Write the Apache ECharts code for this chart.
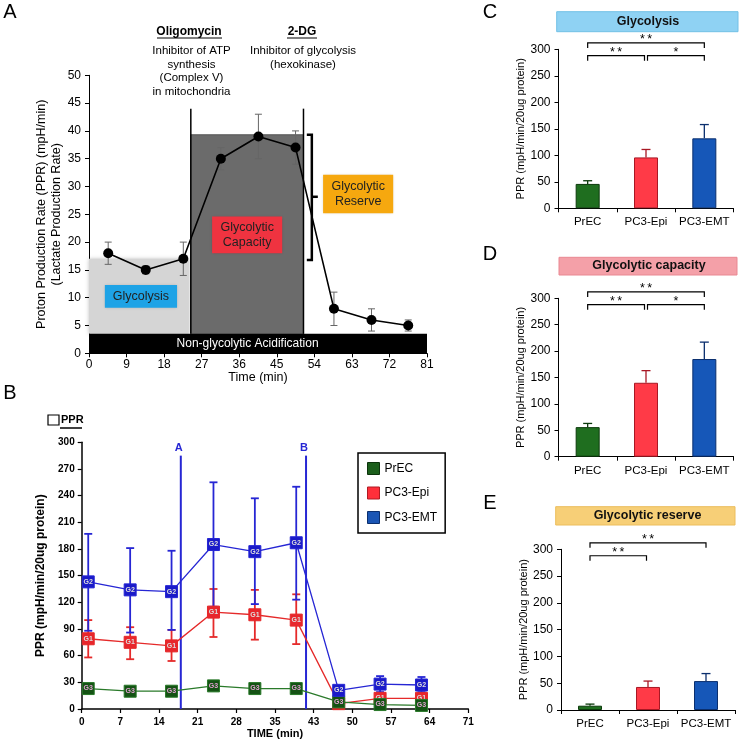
<!DOCTYPE html>
<html><head><meta charset="utf-8">
<script src="https://cdn.jsdelivr.net/npm/echarts@6/dist/echarts.min.js"></script>
<style>html,body{margin:0;padding:0;background:#fff}#c{width:739px;height:747px}</style>
</head><body><div id="c"></div>
<script>
// ================= DATA =================
// Panel A : seahorse glycolysis stress test (schematic)
const timeA = [4.6, 13.6, 22.6, 31.6, 40.6, 49.5, 58.7, 67.7, 76.5];
const pprA  = [18, 15, 17, 35, 39, 37, 8, 6, 5];
const errA  = [2, 0.7, 3, 2, 4, 3, 3, 2, 1];
const basalA = 17, maxA = 39.3, nonGlyA = 3.5;
const oligoTimeA = 24.4, dgTimeA = 51.4;
const xTicksA = {min:0, max:81, step:9};
const yTicksA = {min:0, max:50, step:5};

// Panel B : PPR time course
const timeB   = [1.2, 8.9, 16.5, 24.2, 31.8, 39.4, 47.2, 54.8, 62.4];
const precB   = [23, 20, 20, 26, 23, 23, 8, 5, 4];
const precLoB = [21, 18, 18, 24, 21, 21, 6, 3, 2];
const precHiB = [25, 22, 22, 28, 25, 25, 10, 7, 6];
const epiB    = [79, 75, 71, 109, 106, 100, 6, 12, 12];
const epiLoB  = [58, 56, 54, 81, 78, 73, 3, 9, 9];
const epiHiB  = [100, 92, 89, 135, 134, 129, 9, 15, 15];
const emtB    = [143, 134, 132, 185, 177, 187, 21, 28, 27];
const emtLoB  = [88, 86, 89, 115, 118, 123, 18, 19, 19];
const emtHiB  = [197, 181, 178, 255, 237, 250, 24, 37, 36];
const injectB = [18.2, 41.2];
const injectNamesB = ['A', 'B'];
const injectTopB = 285;
const xTickLabelsB = ['0','7','14','21','28','35','43','50','57','64','71'];
const xMaxB = 71;

// Panels C, D, E : bar summaries
const cats = ['PrEC', 'PC3-Epi', 'PC3-EMT'];
const glyC = [46, 96, 132],  glyErrC = [6, 15, 26];
const capD = [56, 140, 185], capErrD = [7, 23, 32];
const resE = [8, 43, 54],    resErrE = [3, 11, 14];
const sigC = [[0, 1, 0, '**'], [1, 2, 0, '*'], [0, 2, 1, '**']];
const sigD = [[0, 1, 0, '**'], [1, 2, 0, '*'], [0, 2, 1, '**']];
const sigE = [[0, 1, 0, '**'], [0, 2, 1, '**']];

// ================= STYLE =================
const FONT = '"Liberation Sans", Arial, Helvetica, sans-serif';
const barFill = ['#1f6e1f', '#ff3a47', '#1657b8'];
const barEdge = ['#0c3a0c', '#a81824', '#0b2f6e'];

const chart = echarts.init(document.getElementById('c'));

function line(x1, y1, x2, y2, stroke, lw) {
  return {type: 'line', shape: {x1, y1, x2, y2}, style: {stroke, lineWidth: lw}};
}

// ---------- Panel A shapes ----------
const shapesA = {
  type: 'custom', xAxisIndex: 0, yAxisIndex: 0, z: 1, silent: true, clip: false,
  data: [[0, 0]],
  renderItem: (p, api) => {
    const c = (x, y) => api.coord([x, y]);
    const rect = (x0, y0, x1, y1, style) => {
      const a = c(x0, y1), b = c(x1, y0);
      return {type: 'rect', shape: {x: a[0], y: a[1], width: b[0] - a[0], height: b[1] - a[1]}, style};
    };
    const ch = [];
    ch.push(rect(0, nonGlyA, oligoTimeA - 0.5, basalA, {fill: '#d5d5d5', shadowBlur: 4, shadowColor: 'rgba(0,0,0,0.25)'}));
    ch.push(rect(oligoTimeA, nonGlyA, dgTimeA, maxA, {fill: '#6b6b6b', stroke: '#555', lineWidth: 1}));
    ch.push(rect(0, 0, xTicksA.max, nonGlyA, {fill: '#000'}));
    const tc = c(38, nonGlyA / 2);
    ch.push({type: 'text', x: tc[0], y: tc[1], style: {text: 'Non-glycolytic Acidification', fill: '#fff', fontSize: 12, fontFamily: FONT, align: 'center', verticalAlign: 'middle'}});
    [oligoTimeA, dgTimeA].forEach(t => {
      const a = c(t, nonGlyA), b = c(t, 44);
      ch.push(line(a[0], a[1], b[0], b[1], '#000', 1.5));
    });
    // bracket for glycolytic reserve
    const bt = c(53.4, maxA), bb = c(53.4, basalA - 0.2), bm = c(53.4, (maxA + basalA) / 2);
    ch.push({type: 'polyline', shape: {points: [[bt[0] - 5, bt[1]], bt, bb, [bb[0] - 5, bb[1]]]}, style: {stroke: '#000', lineWidth: 2.5, fill: null}});
    ch.push(line(bm[0], bm[1], bm[0] + 6, bm[1], '#000', 2.5));
    return {type: 'group', children: ch};
  }
};

const labelsA = {
  type: 'custom', xAxisIndex: 0, yAxisIndex: 0, z: 6, silent: true, clip: false,
  data: [[0, 0]],
  renderItem: (p, api) => {
    const c = (x, y) => api.coord([x, y]);
    const box = (x0, y0, x1, y1, fill, text) => {
      const a = c(x0, y1), b = c(x1, y0);
      return [
        {type: 'rect', shape: {x: a[0], y: a[1], width: b[0] - a[0], height: b[1] - a[1]}, style: {fill, shadowBlur: 3, shadowColor: 'rgba(0,0,0,0.2)'}},
        {type: 'text', x: (a[0] + b[0]) / 2, y: (a[1] + b[1]) / 2, style: {text, fill: '#222', fontSize: 12.5, lineHeight: 15, fontFamily: FONT, align: 'center', verticalAlign: 'middle'}}
      ];
    };
    return {type: 'group', children: [].concat(
      box(3.8, 8.2, 21.1, 12.3, '#1ea3e6', 'Glycolysis'),
      box(29.5, 18.0, 46.3, 24.6, '#ef3340', 'Glycolytic\nCapacity'),
      box(56.1, 25.2, 72.9, 32.1, '#f6a80f', 'Glycolytic\nReserve')
    )};
  }
};

const errSeriesA = {
  type: 'custom', xAxisIndex: 0, yAxisIndex: 0, z: 2, silent: true, clip: false,
  data: timeA.map((t, i) => [t, pprA[i] - errA[i], pprA[i] + errA[i]]),
  encode: {x: 0, y: [1, 2]},
  renderItem: (p, api) => {
    const x = api.value(0), a = api.coord([x, api.value(1)]), b = api.coord([x, api.value(2)]);
    return {type: 'group', children: [
      line(a[0], a[1], b[0], b[1], '#666', 1),
      line(a[0] - 3.5, a[1], a[0] + 3.5, a[1], '#666', 1),
      line(b[0] - 3.5, b[1], b[0] + 3.5, b[1], '#666', 1)
    ]};
  }
};

const lineA = {
  type: 'line', xAxisIndex: 0, yAxisIndex: 0, z: 3, silent: true,
  data: timeA.map((t, i) => [t, pprA[i]]),
  symbol: 'circle', symbolSize: 10,
  lineStyle: {color: '#000', width: 1.6}, itemStyle: {color: '#000'}
};

// ---------- Panel B ----------
function errSeriesB(vals, lo, hi, color) {
  return {
    type: 'custom', xAxisIndex: 1, yAxisIndex: 1, z: 4, silent: true, clip: false,
    data: timeB.map((t, i) => [t, lo[i], hi[i]]),
    encode: {x: 0, y: [1, 2]},
    renderItem: (p, api) => {
      const x = api.value(0), a = api.coord([x, api.value(1)]), b = api.coord([x, api.value(2)]);
      return {type: 'group', children: [
        line(a[0], a[1], b[0], b[1], color, 1.8),
        line(a[0] - 4, a[1], a[0] + 4, a[1], color, 1.8),
        line(b[0] - 4, b[1], b[0] + 4, b[1], color, 1.8)
      ]};
    }
  };
}
function lineSeriesB(name, vals, color, fill, tag, tagColor, z) {
  return {
    type: 'line', name, xAxisIndex: 1, yAxisIndex: 1, z, silent: true,
    data: timeB.map((t, i) => [t, vals[i]]),
    symbol: 'rect', symbolSize: 12,
    lineStyle: {color, width: 1.3},
    itemStyle: {color: fill, borderColor: color, borderWidth: 1},
    label: {show: true, position: 'inside', formatter: tag, fontSize: 7, fontWeight: 'bold', color: tagColor, fontFamily: FONT}
  };
}
const injectSeriesB = {
  type: 'custom', xAxisIndex: 1, yAxisIndex: 1, z: 3, silent: true, clip: false,
  data: injectB.map(t => [t, injectTopB]),
  renderItem: (p, api) => {
    const x = api.value(0), a = api.coord([x, 0]), b = api.coord([x, api.value(1)]);
    return {type: 'group', children: [
      line(a[0], a[1], b[0], b[1], '#2626d4', 2),
      {type: 'text', x: b[0] - 2, y: b[1] - 8, style: {text: injectNamesB[p.dataIndex], fill: '#2626d4', fontSize: 11, fontWeight: 'bold', fontFamily: FONT, align: 'center', verticalAlign: 'middle'}}
    ]};
  }
};

// ---------- Panels C/D/E ----------
function barPanel(gi, vals, errs, sigs, name) {
  return [
    {type: 'bar', name, xAxisIndex: gi, yAxisIndex: gi, barWidth: 24, z: 2, silent: true,
     data: vals.map((v, i) => ({value: v, itemStyle: {color: barFill[i], borderColor: barEdge[i], borderWidth: 1}}))},
    {type: 'custom', xAxisIndex: gi, yAxisIndex: gi, z: 1, silent: true, clip: false,
     data: vals.map((v, i) => [i, v, v + errs[i]]),
     encode: {x: 0, y: [1, 2]},
     renderItem: (p, api) => {
       const i = api.value(0), a = api.coord([i, api.value(1)]), b = api.coord([i, api.value(2)]);
       const col = barEdge[p.dataIndex];
       return {type: 'group', children: [
         line(a[0], a[1], b[0], b[1], col, 1.3),
         line(b[0] - 4.5, b[1], b[0] + 4.5, b[1], col, 1.3)
       ]};
     }},
    {type: 'custom', xAxisIndex: gi, yAxisIndex: gi, z: 3, silent: true, clip: false,
     data: sigs.map(s => [s[0], s[1], s[2]]),
     renderItem: (p, api) => {
       const s = sigs[p.dataIndex];
       const lvl = s[2] === 0 ? 288 : 312;
       const a = api.coord([s[0], lvl]), b = api.coord([s[1], lvl]);
       let x0 = a[0], x1 = b[0];
       if (s[2] === 0 && s[0] === 1) x0 += 1.5;
       if (s[2] === 0 && s[1] === 1) x1 -= 1.5;
       const y = a[1];
       return {type: 'group', children: [
         {type: 'polyline', shape: {points: [[x0, y + 5], [x0, y], [x1, y], [x1, y + 5]]}, style: {stroke: '#000', lineWidth: 1.2, fill: null}},
         {type: 'text', x: (x0 + x1) / 2, y: y - 3.5, style: {text: s[3].split('').join('\u2009'), fill: '#000', fontSize: 12.5, fontFamily: FONT, align: 'center', verticalAlign: 'middle'}}
       ]};
     }}
  ];
}

// ---------- axes ----------
const blk = {color: '#000'};
function yBar(gi) {
  return {gridIndex: gi, type: 'value', min: 0, max: 300, interval: 50,
    axisLine: {show: true, lineStyle: {color: '#000', width: 1}},
    axisTick: {show: true, length: 4, lineStyle: blk},
    axisLabel: {color: '#000', fontSize: 12, margin: 8, fontFamily: FONT},
    splitLine: {show: false},
    name: 'PPR (mpH/min/20ug protein)', nameLocation: 'middle', nameRotate: 90, nameGap: 30,
    nameTextStyle: {fontSize: 11, color: '#000', fontFamily: FONT}};
}
function xBar(gi) {
  return {gridIndex: gi, type: 'category', data: cats,
    axisLine: {show: true, lineStyle: {color: '#000', width: 1}},
    axisTick: {show: true, length: 4, lineStyle: blk},
    axisLabel: {color: '#000', fontSize: 11.5, margin: 8, fontFamily: FONT, interval: 0, hideOverlap: false}};
}

const option = {
  animation: false,
  textStyle: {fontFamily: FONT},
  grid: [
    {left: 89, top: 75.3, width: 338, height: 278, outerBoundsMode: 'none'},
    {left: 81.7, top: 442.3, width: 386.6, height: 266.7, outerBoundsMode: 'none'},
    {left: 558.5, top: 49.3, width: 175, height: 159, outerBoundsMode: 'none'},
    {left: 558.5, top: 298.3, width: 175, height: 158.4, outerBoundsMode: 'none'},
    {left: 561, top: 549.3, width: 174, height: 160.7, outerBoundsMode: 'none'}
  ],
  xAxis: [
    {gridIndex: 0, type: 'value', min: xTicksA.min, max: xTicksA.max, interval: xTicksA.step,
     axisLine: {show: true, lineStyle: {color: '#000', width: 1}},
     axisTick: {show: true, length: 4, lineStyle: blk},
     axisLabel: {color: '#000', fontSize: 12, margin: 5, fontFamily: FONT},
     splitLine: {show: false},
     name: 'Time (min)', nameLocation: 'middle', nameGap: 17,
     nameTextStyle: {fontSize: 12.5, color: '#000', fontFamily: FONT}},
    {gridIndex: 1, type: 'value', min: 0, max: xMaxB,
     axisLine: {show: true, lineStyle: {color: '#000', width: 1.5}},
     axisTick: {show: true, length: 4, lineStyle: {color: '#000', width: 1.2}, customValues: xTickLabelsB.map((_, i) => i * xMaxB / (xTickLabelsB.length - 1))},
     axisLabel: {color: '#000', fontSize: 10, fontWeight: 'bold', margin: 8, fontFamily: FONT,
       customValues: xTickLabelsB.map((_, i) => i * xMaxB / (xTickLabelsB.length - 1)),
       formatter: v => xTickLabelsB[Math.round(v / (xMaxB / (xTickLabelsB.length - 1)))]},
     splitLine: {show: false},
     name: 'TIME (min)', nameLocation: 'middle', nameGap: 19,
     nameTextStyle: {fontSize: 11, fontWeight: 'bold', color: '#000', fontFamily: FONT}},
    xBar(2), xBar(3), xBar(4)
  ],
  yAxis: [
    {gridIndex: 0, type: 'value', min: yTicksA.min, max: yTicksA.max, interval: yTicksA.step,
     axisLine: {show: true, lineStyle: {color: '#000', width: 1}},
     axisTick: {show: true, length: 4, lineStyle: blk},
     axisLabel: {color: '#000', fontSize: 12, margin: 8, fontFamily: FONT},
     splitLine: {show: false},
     name: 'Proton Production Rate (PPR) (mpH/min)\n(Lactate Production Rate)', nameLocation: 'middle', nameRotate: 90, nameGap: 25,
     nameTextStyle: {fontSize: 12.5, lineHeight: 15, color: '#000', fontFamily: FONT}},
    {gridIndex: 1, type: 'value', min: 0, max: 300, interval: 30,
     axisLine: {show: true, lineStyle: {color: '#000', width: 1.5}},
     axisTick: {show: true, length: 4, lineStyle: {color: '#000', width: 1.2}},
     axisLabel: {color: '#000', fontSize: 10, fontWeight: 'bold', margin: 7, fontFamily: FONT},
     splitLine: {show: false},
     name: 'PPR (mpH/min/20ug protein)', nameLocation: 'middle', nameRotate: 90, nameGap: 34,
     nameTextStyle: {fontSize: 12, fontWeight: 'bold', color: '#000', fontFamily: FONT}},
    yBar(2), yBar(3), yBar(4)
  ],
  legend: {
    left: 358, top: 453, orient: 'vertical', selectedMode: false,
    data: [
      {name: 'PrEC', itemStyle: {color: '#1b5e1b', borderColor: '#0c330c', borderWidth: 1}},
      {name: 'PC3-Epi', itemStyle: {color: '#ff2f3a', borderColor: '#b01a22', borderWidth: 1}},
      {name: 'PC3-EMT', itemStyle: {color: '#1a55b4', borderColor: '#0b2f6e', borderWidth: 1}}
    ],
    icon: 'rect', itemWidth: 12, itemHeight: 12, itemGap: 11.5,
    padding: [9, 8, 9, 9], borderColor: '#000', borderWidth: 1.5,
    textStyle: {fontSize: 12, color: '#000', fontFamily: FONT}
  },
  series: [
    shapesA, errSeriesA, lineA, labelsA,
    injectSeriesB,
    errSeriesB(epiB, epiLoB, epiHiB, '#e52a2a'),
    errSeriesB(precB, precLoB, precHiB, '#2a7a2a'),
    errSeriesB(emtB, emtLoB, emtHiB, '#2626d4'),
    lineSeriesB('PC3-Epi', epiB, '#e52a2a', '#e8262c', 'G1', '#dddddd', 5),
    lineSeriesB('PrEC', precB, '#2a7a2a', '#145214', 'G3', '#e0a0d0', 6),
    lineSeriesB('PC3-EMT', emtB, '#2626d4', '#1a1ac8', 'G2', '#dddddd', 7)
  ].concat(barPanel(2, glyC, glyErrC, sigC, 'Glycolysis'),
           barPanel(3, capD, capErrD, sigD, 'Glycolytic capacity'),
           barPanel(4, resE, resErrE, sigE, 'Glycolytic reserve')),
  graphic: [
    {type: 'text', x: 10, y: 12, style: {text: 'A', fontSize: 20, fill: '#000', fontFamily: FONT, align: 'center', verticalAlign: 'middle'}},
    {type: 'text', x: 10, y: 393, style: {text: 'B', fontSize: 20, fill: '#000', fontFamily: FONT, align: 'center', verticalAlign: 'middle'}},
    {type: 'text', x: 490, y: 12, style: {text: 'C', fontSize: 20, fill: '#000', fontFamily: FONT, align: 'center', verticalAlign: 'middle'}},
    {type: 'text', x: 490, y: 254, style: {text: 'D', fontSize: 20, fill: '#000', fontFamily: FONT, align: 'center', verticalAlign: 'middle'}},
    {type: 'text', x: 490, y: 503, style: {text: 'E', fontSize: 20, fill: '#000', fontFamily: FONT, align: 'center', verticalAlign: 'middle'}},
    // Panel A treatment annotations
    {type: 'text', x: 189, y: 31.7, style: {text: 'Oligomycin', fontSize: 12, fontWeight: 'bold', fill: '#000', fontFamily: FONT, align: 'center', verticalAlign: 'middle'}},
    {type: 'line', shape: {x1: 157, y1: 38, x2: 222, y2: 38}, style: {stroke: '#000', lineWidth: 1}},
    {type: 'text', x: 191.5, y: 44, style: {text: 'Inhibitor of ATP\nsynthesis\n(Complex V)\nin mitochondria', fontSize: 11.5, lineHeight: 13.7, fill: '#000', fontFamily: FONT, align: 'center', verticalAlign: 'top'}},
    {type: 'text', x: 302, y: 31.7, style: {text: '2-DG', fontSize: 12, fontWeight: 'bold', fill: '#000', fontFamily: FONT, align: 'center', verticalAlign: 'middle'}},
    {type: 'line', shape: {x1: 287, y1: 38, x2: 317, y2: 38}, style: {stroke: '#000', lineWidth: 1}},
    {type: 'text', x: 303, y: 44, style: {text: 'Inhibitor of glycolysis\n(hexokinase)', fontSize: 11.5, lineHeight: 13.7, fill: '#000', fontFamily: FONT, align: 'center', verticalAlign: 'top'}},
    // Panel B small key
    {type: 'rect', shape: {x: 48, y: 415, width: 11, height: 10}, style: {stroke: '#000', lineWidth: 1.2, fill: '#fff'}},
    {type: 'text', x: 61, y: 420, style: {text: 'PPR', fontSize: 11, fontWeight: 'bold', fill: '#000', fontFamily: FONT, align: 'left', verticalAlign: 'middle'}},
    {type: 'line', shape: {x1: 60, y1: 428, x2: 82, y2: 428}, style: {stroke: '#000', lineWidth: 1.5}},
    // Panel C/D/E headers
    {type: 'rect', shape: {x: 556.7, y: 11.7, width: 181.3, height: 20}, style: {fill: '#8fd2f3', stroke: '#72c0e6', lineWidth: 1}},
    {type: 'text', x: 648, y: 21.5, style: {text: 'Glycolysis', fontSize: 12.5, fontWeight: 'bold', fill: '#111', fontFamily: FONT, align: 'center', verticalAlign: 'middle'}},
    {type: 'rect', shape: {x: 559, y: 257.3, width: 178, height: 17.7}, style: {fill: '#f4a0a8', stroke: '#e98892', lineWidth: 1}},
    {type: 'text', x: 649, y: 266, style: {text: 'Glycolytic capacity', fontSize: 12.5, fontWeight: 'bold', fill: '#111', fontFamily: FONT, align: 'center', verticalAlign: 'middle'}},
    {type: 'rect', shape: {x: 555.7, y: 506.7, width: 179.3, height: 18.3}, style: {fill: '#f7cf77', stroke: '#ecbd5c', lineWidth: 1}},
    {type: 'text', x: 647.5, y: 515.5, style: {text: 'Glycolytic reserve', fontSize: 12.5, fontWeight: 'bold', fill: '#111', fontFamily: FONT, align: 'center', verticalAlign: 'middle'}}
  ]
};
chart.setOption(option);
</script>
</body></html>
